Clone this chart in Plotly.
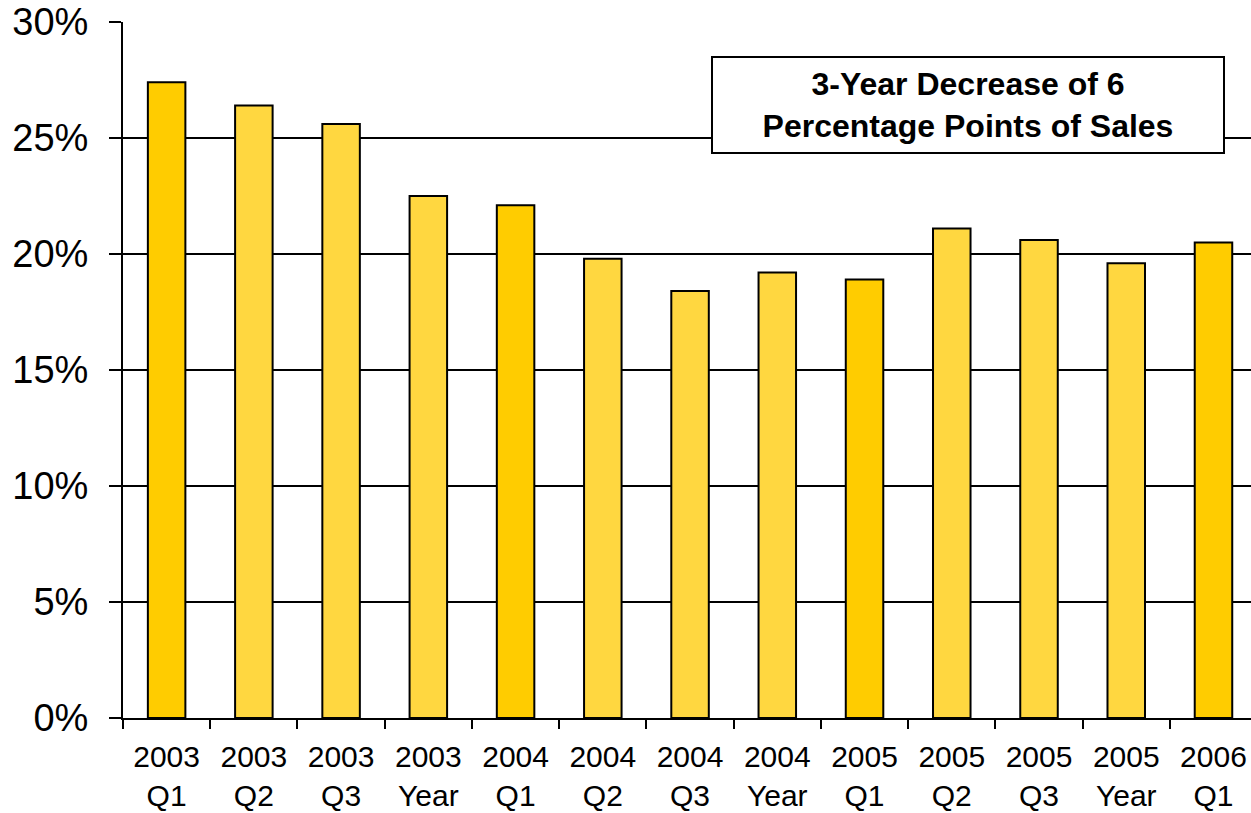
import plotly.graph_objects as go

categories = ["2003<br>Q1", "2003<br>Q2", "2003<br>Q3", "2003<br>Year",
              "2004<br>Q1", "2004<br>Q2", "2004<br>Q3", "2004<br>Year",
              "2005<br>Q1", "2005<br>Q2", "2005<br>Q3", "2005<br>Year",
              "2006<br>Q1"]
values = [0.274, 0.264, 0.256, 0.225, 0.221, 0.198, 0.184, 0.192,
          0.189, 0.211, 0.206, 0.196, 0.205]
is_q1 = [True, False, False, False, True, False, False, False,
         True, False, False, False, True]
y_ticks = [0, 0.05, 0.10, 0.15, 0.20, 0.25, 0.30]
note_text = "<b>3-Year Decrease of 6<br>Percentage Points of Sales</b>"

colors = ["#FFCC00" if q else "#FFD740" for q in is_q1]
FONT = "Liberation Sans, Arial, sans-serif"

fig = go.Figure()
fig.add_trace(go.Bar(
    x=categories, y=values,
    marker=dict(color=colors, line=dict(color="black", width=2)),
    width=0.43,
))

fig.update_layout(
    width=1251, height=813,
    margin=dict(l=123, r=0, t=22, b=95),
    paper_bgcolor="white", plot_bgcolor="white",
    showlegend=False,
    font=dict(family=FONT, color="black"),
    annotations=[dict(
        text=note_text, xref="paper", yref="paper",
        x=0.749, y=0.881, xanchor="center", yanchor="middle",
        showarrow=False, font=dict(size=32, family=FONT, color="black"),
        bgcolor="white", bordercolor="black", borderwidth=2, borderpad=2,
        width=506, height=90, align="center",
    )],
)
fig.update_xaxes(
    type="category", range=[-0.5, 12.43],
    showline=True, linecolor="black", linewidth=2,
    ticks="outside", tickson="boundaries", ticklen=9, tickwidth=2, tickcolor="black",
    showgrid=False, tickfont=dict(size=30, family=FONT, color="black"),
    ticklabelstandoff=11,
)
fig.update_yaxes(
    range=[0, 0.30], tickvals=y_ticks, tickformat=".0%",
    showline=True, linecolor="black", linewidth=2,
    ticks="outside", ticklen=12, tickwidth=2, tickcolor="black",
    showgrid=True, gridcolor="black", gridwidth=2,
    zeroline=False, tickfont=dict(size=38, family=FONT, color="black"),
    ticklabelstandoff=13,
)

fig.write_html("out.html")
